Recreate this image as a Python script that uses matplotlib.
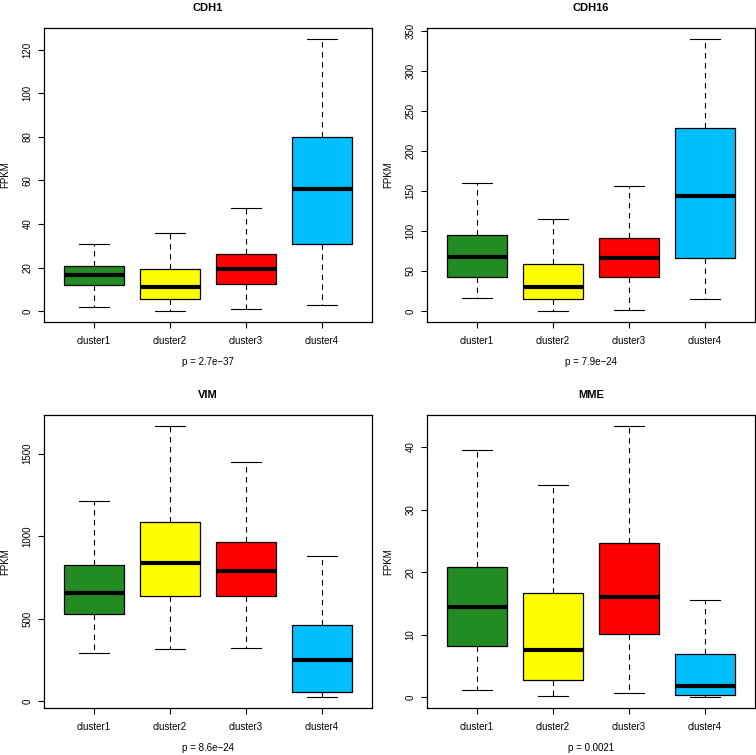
import matplotlib
matplotlib.use("Agg")
from matplotlib import pyplot as plt

plt.rcParams['font.family'] = ['Liberation Sans', 'DejaVu Sans']

clusters = ["cluster1", "cluster2", "cluster3", "cluster4"]
colors = ["#228B22", "#FFFF00", "#FF0000", "#00BFFF"]

genes = ["CDH1", "CDH16", "VIM", "MME"]
pvals = ["p = 2.7e\u221237", "p = 7.9e\u221224", "p = 8.6e\u221224", "p = 0.0021"]
yticks = [[0, 20, 40, 60, 80, 100, 120],
          [0, 50, 100, 150, 200, 250, 300, 350],
          [0, 500, 1000, 1500],
          [0, 10, 20, 30, 40]]

# lower whisker, q1, median, q3, upper whisker per cluster
cdh1_lo = [2.0, 0.0, 0.9, 2.8]
cdh1_q1 = [11.9, 5.7, 12.4, 30.9]
cdh1_med = [16.4, 10.9, 19.3, 56.1]
cdh1_q3 = [20.5, 19.4, 26.3, 79.7]
cdh1_hi = [31.0, 35.9, 47.1, 124.9]

cdh16_lo = [16.7, 0.0, 0.8, 14.6]
cdh16_q1 = [42.1, 15.4, 42.5, 66.7]
cdh16_med = [67.1, 30.4, 65.8, 144.2]
cdh16_q3 = [94.6, 58.3, 90.8, 229.2]
cdh16_hi = [159.6, 115.4, 155.8, 340.0]

vim_lo = [292, 317, 321, 25]
vim_q1 = [529, 640, 636, 57]
vim_med = [658, 840, 787, 247]
vim_q3 = [824, 1087, 967, 460]
vim_hi = [1210, 1668, 1449, 877]

mme_lo = [1.2, 0.16, 0.64, 0.0]
mme_q1 = [8.2, 2.8, 10.05, 0.37]
mme_med = [14.4, 7.55, 16.1, 1.86]
mme_q3 = [20.85, 16.65, 24.7, 6.86]
mme_hi = [39.6, 33.9, 43.4, 15.6]

data = [(cdh1_lo, cdh1_q1, cdh1_med, cdh1_q3, cdh1_hi),
        (cdh16_lo, cdh16_q1, cdh16_med, cdh16_q3, cdh16_hi),
        (vim_lo, vim_q1, vim_med, vim_q3, vim_hi),
        (mme_lo, mme_q1, mme_med, mme_q3, mme_hi)]

fig = plt.figure(figsize=(7.56, 7.55), dpi=100)

# axes rectangles in pixels (left, top, right, bottom)
W, H = 756.0, 755.0
boxes = [(44, 28, 372, 322), (427, 28, 755, 322),
         (44, 415, 372, 708), (427, 415, 755, 708)]

for i, gene in enumerate(genes):
    x0, y0, x1, y1 = boxes[i]
    ax = fig.add_axes([x0 / W, 1 - y1 / H, (x1 - x0) / W, (y1 - y0) / H])
    lo, q1, med, q3, hi = data[i]
    stats = []
    for k in range(4):
        stats.append({"whislo": lo[k], "q1": q1[k], "med": med[k],
                      "q3": q3[k], "whishi": hi[k], "fliers": [],
                      "label": clusters[k]})
    bp = ax.bxp(stats, positions=[1, 2, 3, 4], widths=0.8,
                patch_artist=True, showfliers=False,
                boxprops=dict(linewidth=0.9, edgecolor="black"),
                medianprops=dict(color="black", linewidth=3.0, solid_capstyle="butt"),
                whiskerprops=dict(color="black", linewidth=0.8, linestyle=(0, (5, 4))),
                capprops=dict(color="black", linewidth=0.8),
                capwidths=0.4)
    for patch, c in zip(bp["boxes"], colors):
        patch.set_facecolor(c)

    ymin = min(lo)
    ymax = max(hi)
    ext = (ymax - ymin) * 0.04
    ax.set_ylim(ymin - ext, ymax + ext)
    ax.set_xlim(0.34, 4.66)
    ax.set_yticks(yticks[i])
    ax.set_yticklabels([str(t) for t in yticks[i]], rotation=90, va="center")
    ax.tick_params(axis="both", direction="out", length=4.3, width=0.8,
                   labelsize=7, colors="black")
    ax.tick_params(axis="x", pad=6)
    ax.tick_params(axis="y", pad=4)
    for s in ax.spines.values():
        s.set_linewidth(0.9)
    ax.set_ylabel("FPKM", fontsize=7, labelpad=9)
    ax.set_xlabel(pvals[i], fontsize=7, labelpad=8)
    ax.set_title(gene, fontsize=8, fontweight="bold", pad=12.5)

plt.savefig("out.png", dpi=100)
